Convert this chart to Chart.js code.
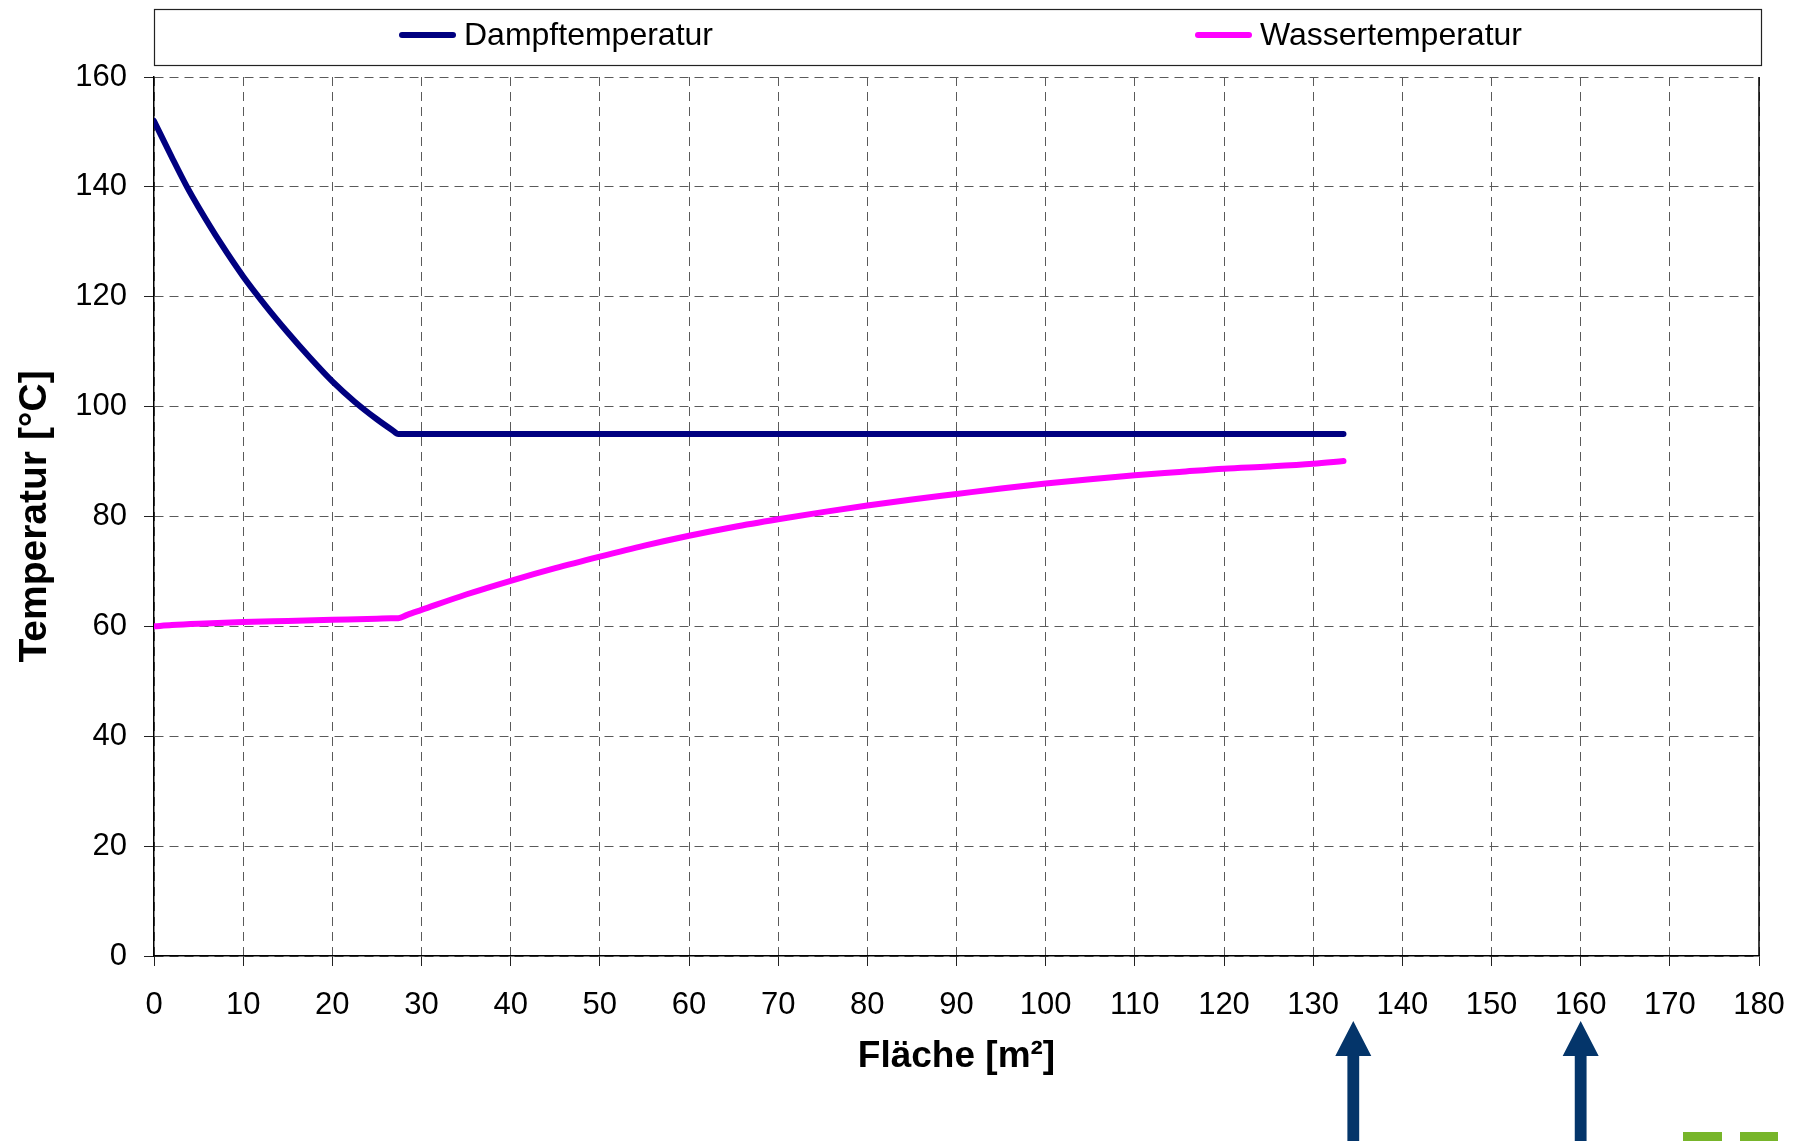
<!DOCTYPE html>
<html>
<head>
<meta charset="utf-8">
<script src="https://cdn.jsdelivr.net/npm/chart.js@4.4.1/dist/chart.umd.min.js"></script>
<style>
  html, body { margin: 0; padding: 0; background: #fff; }
  #wrap { position: relative; width: 1809px; height: 1141px; overflow: hidden; }
  .logo { position: absolute; top: 1132px; height: 12px; background: #77b52a; }
</style>
</head>
<body>
<div id="wrap">
  <canvas id="c" width="1809" height="1141"></canvas>
  <div class="logo" style="left:1683px;width:39px"></div>
  <div class="logo" style="left:1740px;width:38px"></div>
</div>
<script>
// Heat exchanger: steam and water temperature over transfer area
const seriesNames = ['Dampftemperatur', 'Wassertemperatur'];

const dampfArea = [0, 2, 3.7, 5, 7.5, 10, 12.5, 15, 17.5, 20, 22.5, 25, 26.7, 27.4, 28.4, 133.4];
const dampfTemp = [152, 145.4, 140, 136.3, 129.7, 123.7, 118.4, 113.5, 108.9, 104.6, 100.9, 97.7, 95.75, 95, 95, 95];

const wasserArea = [0, 2, 5, 10, 15, 20, 25, 26.6, 27.4, 28.4, 30, 35, 40, 45, 50, 55, 60, 65, 70, 75, 80, 85, 90, 95, 100, 105, 110, 115, 120, 125, 130, 133.4];
const wasserTemp = [60, 60.25, 60.5, 60.8, 61.0, 61.2, 61.4, 61.47, 61.5, 62.1, 63.0, 65.8, 68.3, 70.6, 72.7, 74.7, 76.5, 78.1, 79.5, 80.8, 82.0, 83.1, 84.1, 85.1, 86.0, 86.8, 87.5, 88.1, 88.7, 89.1, 89.6, 90.1];

// Area markers pointed at below the axis
const markedAreas = [134.5, 160];

const xTitle = 'Fläche [m²]';
const yTitle = 'Temperatur [°C]';

const FONT = "'Liberation Sans', Arial, sans-serif";
const colors = ['#000080', '#ff00ff'];

const toPoints = (xs, ys) => xs.map((x, i) => ({ x, y: ys[i] }));

// Boxed legend across the top
const boxLegend = {
  id: 'boxLegend',
  afterDraw(chart) {
    const { ctx, chartArea } = chart;
    const top = 9, bottom = 65, cy = 35;
    const itemX = [399, 1195];
    ctx.save();
    ctx.strokeStyle = '#222';
    ctx.lineWidth = 1.2;
    ctx.strokeRect(chartArea.left + 0.5, top + 0.5, chartArea.right - chartArea.left + 2, bottom - top);
    ctx.font = '32px ' + FONT;
    ctx.textBaseline = 'middle';
    ctx.fillStyle = '#000';
    chart.data.datasets.forEach((ds, i) => {
      const x0 = itemX[i];
      ctx.strokeStyle = ds.borderColor;
      ctx.lineWidth = 6;
      ctx.lineCap = 'round';
      ctx.beginPath();
      ctx.moveTo(x0 + 3, cy);
      ctx.lineTo(x0 + 54, cy);
      ctx.stroke();
      ctx.fillText(ds.label, x0 + 65, cy + 1);
    });
    ctx.restore();
  }
};

// Solid right frame line and upward arrows under the x axis
const frameAndArrows = {
  id: 'frameAndArrows',
  afterDraw(chart) {
    const { ctx, chartArea, scales: { x } } = chart;
    ctx.save();
    ctx.strokeStyle = '#000';
    ctx.lineWidth = 1.5;
    ctx.beginPath();
    ctx.moveTo(chartArea.right, chartArea.top);
    ctx.lineTo(chartArea.right, chartArea.bottom);
    ctx.stroke();

    ctx.fillStyle = '#04356a';
    markedAreas.forEach(v => {
      const px = x.getPixelForValue(v);
      const tipY = chartArea.bottom + 65;
      const baseY = chartArea.bottom + 100;
      const half = 18, shaft = 5.9;
      ctx.beginPath();
      ctx.moveTo(px, tipY);
      ctx.lineTo(px + half, baseY);
      ctx.lineTo(px + shaft, baseY);
      ctx.lineTo(px + shaft, chart.height);
      ctx.lineTo(px - shaft, chart.height);
      ctx.lineTo(px - shaft, baseY);
      ctx.lineTo(px - half, baseY);
      ctx.closePath();
      ctx.fill();
    });
    ctx.restore();
  }
};

const gridStyle = {
  color: '#5a5a5a',
  lineWidth: 1,
  tickLength: 10,
  tickColor: '#222',
  tickWidth: 1
};

const lineStyle = {
  borderWidth: 6,
  borderCapStyle: 'round',
  borderJoinStyle: 'round',
  pointRadius: 0,
  cubicInterpolationMode: 'monotone'
};

new Chart(document.getElementById('c'), {
  type: 'line',
  data: {
    datasets: [
      Object.assign({
        label: seriesNames[0],
        data: toPoints(dampfArea, dampfTemp),
        borderColor: colors[0],
        backgroundColor: colors[0]
      }, lineStyle),
      Object.assign({
        label: seriesNames[1],
        data: toPoints(wasserArea, wasserTemp),
        borderColor: colors[1],
        backgroundColor: colors[1]
      }, lineStyle)
    ]
  },
  options: {
    responsive: false,
    animation: false,
    devicePixelRatio: 1,
    layout: { padding: { top: 77, right: 50, left: 0, bottom: 0 } },
    plugins: {
      legend: { display: false },
      tooltip: { enabled: false }
    },
    scales: {
      x: {
        type: 'linear',
        min: 0,
        max: 180,
        ticks: {
          stepSize: 10,
          color: '#000',
          padding: 21,
          maxRotation: 0,
          font: { family: FONT, size: 31 }
        },
        grid: gridStyle,
        border: { display: true, color: '#000', width: 1.5, dash: [9, 6] },
        title: {
          display: true,
          text: xTitle,
          color: '#000',
          font: { family: FONT, size: 37, weight: 'bold' },
          padding: { top: 0, bottom: 62 }
        },
        afterFit(scale) { scale.height = 185; }
      },
      y: {
        min: 0,
        max: 160,
        ticks: {
          stepSize: 20,
          color: '#000',
          padding: 17,
          font: { family: FONT, size: 31 }
        },
        grid: gridStyle,
        border: { display: true, color: '#000', width: 1.5, dash: [9, 6] },
        title: {
          display: true,
          text: yTitle,
          color: '#000',
          font: { family: FONT, size: 39, weight: 'bold' },
          padding: { top: 12, bottom: 0 }
        },
        afterFit(scale) { scale.width = 154; }
      }
    }
  },
  plugins: [boxLegend, frameAndArrows]
});
</script>
</body>
</html>
